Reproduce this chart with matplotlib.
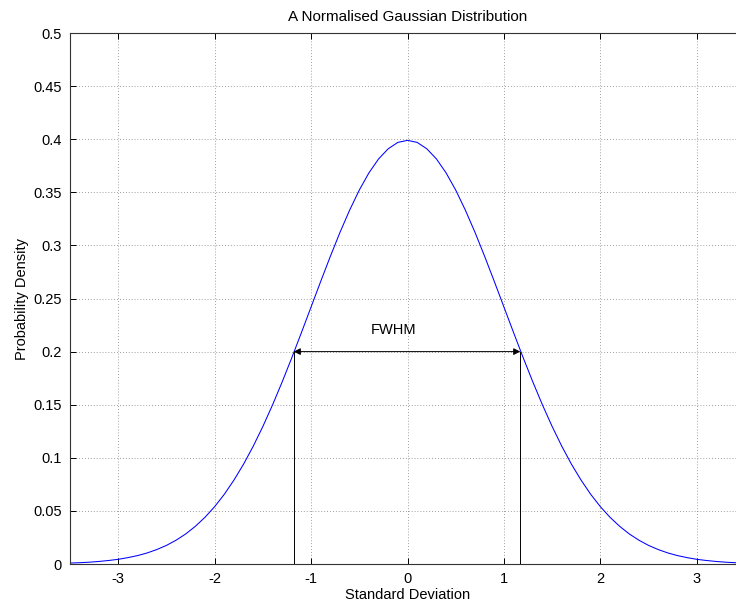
import matplotlib
matplotlib.use("Agg")
import matplotlib.pyplot as plt

# values
std_dev = [
    -3.5, -3.4, -3.3, -3.2, -3.1, -3.0, -2.9, -2.8, -2.7, -2.6,
    -2.5, -2.4, -2.3, -2.2, -2.1, -2.0, -1.9, -1.8, -1.7, -1.6,
    -1.5, -1.4, -1.3, -1.2, -1.1, -1.0, -0.9, -0.8, -0.7, -0.6,
    -0.5, -0.4, -0.3, -0.2, -0.1, 0.0, 0.1, 0.2, 0.3, 0.4,
    0.5, 0.6, 0.7, 0.8, 0.9, 1.0, 1.1, 1.2, 1.3, 1.4,
    1.5, 1.6, 1.7, 1.8, 1.9, 2.0, 2.1, 2.2, 2.3, 2.4,
    2.5, 2.6, 2.7, 2.8, 2.9, 3.0, 3.1, 3.2, 3.3, 3.4, 3.5,
]
density = [
    0.0009, 0.0012, 0.0017, 0.0024, 0.0033, 0.0044, 0.0060, 0.0079, 0.0104, 0.0136,
    0.0175, 0.0224, 0.0283, 0.0355, 0.0440, 0.0540, 0.0656, 0.0790, 0.0940, 0.1109,
    0.1295, 0.1497, 0.1714, 0.1942, 0.2179, 0.2420, 0.2661, 0.2897, 0.3123, 0.3332,
    0.3521, 0.3683, 0.3814, 0.3910, 0.3970, 0.3989, 0.3970, 0.3910, 0.3814, 0.3683,
    0.3521, 0.3332, 0.3123, 0.2897, 0.2661, 0.2420, 0.2179, 0.1942, 0.1714, 0.1497,
    0.1295, 0.1109, 0.0940, 0.0790, 0.0656, 0.0540, 0.0440, 0.0355, 0.0283, 0.0224,
    0.0175, 0.0136, 0.0104, 0.0079, 0.0060, 0.0044, 0.0033, 0.0024, 0.0017, 0.0012, 0.0009,
]

fwhm_left = -1.18
fwhm_right = 1.17
half_max = 0.2

x_ticks = [-3, -2, -1, 0, 1, 2, 3]
y_ticks = [0, 0.05, 0.1, 0.15, 0.2, 0.25, 0.3, 0.35, 0.4, 0.45, 0.5]
y_labels = ["0", "0.05", "0.1", "0.15", "0.2", "0.25", "0.3", "0.35", "0.4", "0.45", "0.5"]

plt.rcParams["font.family"] = ["Liberation Sans", "DejaVu Sans"]

fig = plt.figure(figsize=(7.36, 6.10), dpi=100)
# the original is cropped on the right, so the axes run past the figure edge
ax = fig.add_axes([70 / 736, 1 - 564 / 610, 675 / 736, 531 / 610])

ax.plot(std_dev, density, color="#0000ff", lw=0.75)

ax.plot([fwhm_left, fwhm_left], [0, half_max], color="black", lw=0.7)
ax.plot([fwhm_right, fwhm_right], [0, half_max], color="black", lw=0.7)
ax.annotate(
    "",
    xy=(fwhm_right, half_max),
    xytext=(fwhm_left, half_max),
    arrowprops=dict(arrowstyle="<|-|>", color="black", lw=0.7,
                    mutation_scale=10, shrinkA=0, shrinkB=0),
)
ax.text(-0.14, 0.2205, "FWHM", ha="center", va="center", fontsize=10.5)

ax.set_xlim(-3.5, 3.5)
ax.set_ylim(0, 0.5)
ax.set_xticks(x_ticks)
ax.set_xticklabels([str(t) for t in x_ticks])
ax.set_yticks(y_ticks)
ax.set_yticklabels(y_labels)

ax.grid(True, linestyle=(0, (1, 2.5)), color="#808080", lw=0.6)
ax.tick_params(direction="in", length=4, width=0.7, top=True, right=True,
               labelsize=10.5, pad=6)
for s in ax.spines.values():
    s.set_linewidth(0.8)
    s.set_color("#333333")

ax.set_title("A Normalised Gaussian Distribution", fontsize=11, pad=9)
ax.set_xlabel("Standard Deviation", fontsize=10.5, labelpad=1)
ax.set_ylabel("Probability Density", fontsize=10.5, labelpad=3)

fig.savefig("out.png", dpi=100)
